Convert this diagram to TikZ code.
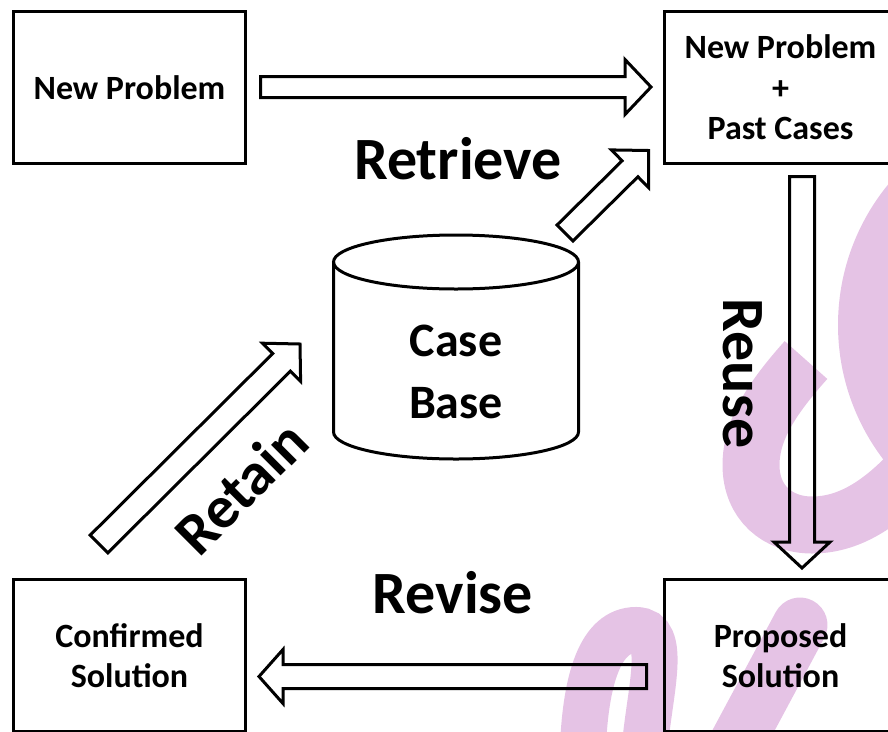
\documentclass[tikz,border=0pt]{standalone}
\usepackage{fontspec}
\setmainfont{Carlito}
\usetikzlibrary{calc}

\definecolor{wmpink}{RGB}{229,195,229}

\tikzset{
  box/.style={draw, line width=3pt, minimum width=232pt, minimum height=152pt,
    align=center, inner sep=0pt, font=\bfseries\fontsize{34}{40.5}\selectfont},
  cbtext/.style={align=center, inner sep=0pt, font=\bfseries\fontsize{48}{62}\selectfont},
  bigword/.style={inner sep=0pt, font=\bfseries\fontsize{60}{70}\selectfont},
  outline/.style={draw, line width=3pt},
  blockarr/.style={draw, line width=3pt, line join=miter},
  wmstroke/.style={draw=wmpink, line cap=butt},
}

% hollow block arrow: #1 tail, #2 tip, #3 shaft half width, #4 head half width, #5 head length
\newcommand\blockarrow[5]{%
  \path ($(#2)!#5!(#1)$) coordinate (#2-base);
  \draw[blockarr]
    ($(#1)!#3!90:(#2)$) -- ($(#2-base)!#3!90:(#2)$) -- ($(#2-base)!#4!90:(#2)$)
    -- (#2)
    -- ($(#2-base)!#4!-90:(#2)$) -- ($(#2-base)!#3!-90:(#2)$) -- ($(#1)!#3!-90:(#2)$)
    -- cycle;}

\begin{document}
\begin{tikzpicture}[x=1pt, y=-1pt]
\useasboundingbox (0,0) rectangle (888,731);
\begin{scope}
\clip (0,0) rectangle (888,731);

% faint logo strokes in the background
\draw[wmstroke, line width=70pt] (1060,325) circle[radius=187pt];
\draw[wmstroke, line width=57pt] (806,360) .. controls (772,398) and (751,430) .. (751,465)
  .. controls (751,503) and (778,525) .. (812,525) .. controls (848,525) and (878,505) .. (905,478);
\draw[wmstroke, line width=46pt] (583,745) .. controls (586,680) and (600,630) .. (636,630)
  .. controls (668,630) and (650,690) .. (645,745);
\draw[wmstroke, line width=55pt, line cap=round] (800,625) -- (733,750);

% the four stages
\node[box] (np)  at (129.5,87.5)  {New Problem};
\node[box] (npc) at (780.5,87.5)  {New Problem\\+\\Past Cases};
\node[box] (ps)  at (780.5,655.5) {Proposed\\Solution};
\node[box] (cs)  at (129.5,655.5) {Confirmed\\Solution};

% case base cylinder
\draw[outline] (456,262) ellipse[x radius=122.5pt, y radius=27pt];
\draw[outline] (333.5,262) -- (333.5,432)
  arc[start angle=180, end angle=360, x radius=122.5pt, y radius=27pt] -- (578.5,262);
\node[cbtext] (cb) at (456,372) {Case\\Base};

% block arrows
\coordinate (a1t) at (260.5,87);   \coordinate (a1h) at (651,87);
\coordinate (a2t) at (565,233);    \coordinate (a2h) at (648.5,150.5);
\coordinate (a3t) at (802,176.5);  \coordinate (a3h) at (802,568);
\coordinate (a4t) at (646.5,676.5);\coordinate (a4h) at (259,676.5);
\coordinate (a5t) at (99,544);     \coordinate (a5h) at (300,344);
\blockarrow{a1t}{a1h}{10.5pt}{27.5pt}{26pt}
\blockarrow{a2t}{a2h}{11.25pt}{26.5pt}{26pt}
\blockarrow{a3t}{a3h}{12.5pt}{28pt}{26pt}
\blockarrow{a4t}{a4h}{12pt}{27pt}{24pt}
\blockarrow{a5t}{a5h}{12.5pt}{27pt}{26pt}

% phase labels
\node[bigword, anchor=base] (lretrieve) at (458,179) {Retrieve};
\node[bigword, anchor=base] (lrevise) at (453,613) {Revise};
\node[bigword, anchor=base, rotate=-90] (lreuse) at (723,373.5) {Reuse};
\node[bigword, rotate=45] (lretain) at (241,487) {Retain};
\end{scope}
\end{tikzpicture}
\end{document}
